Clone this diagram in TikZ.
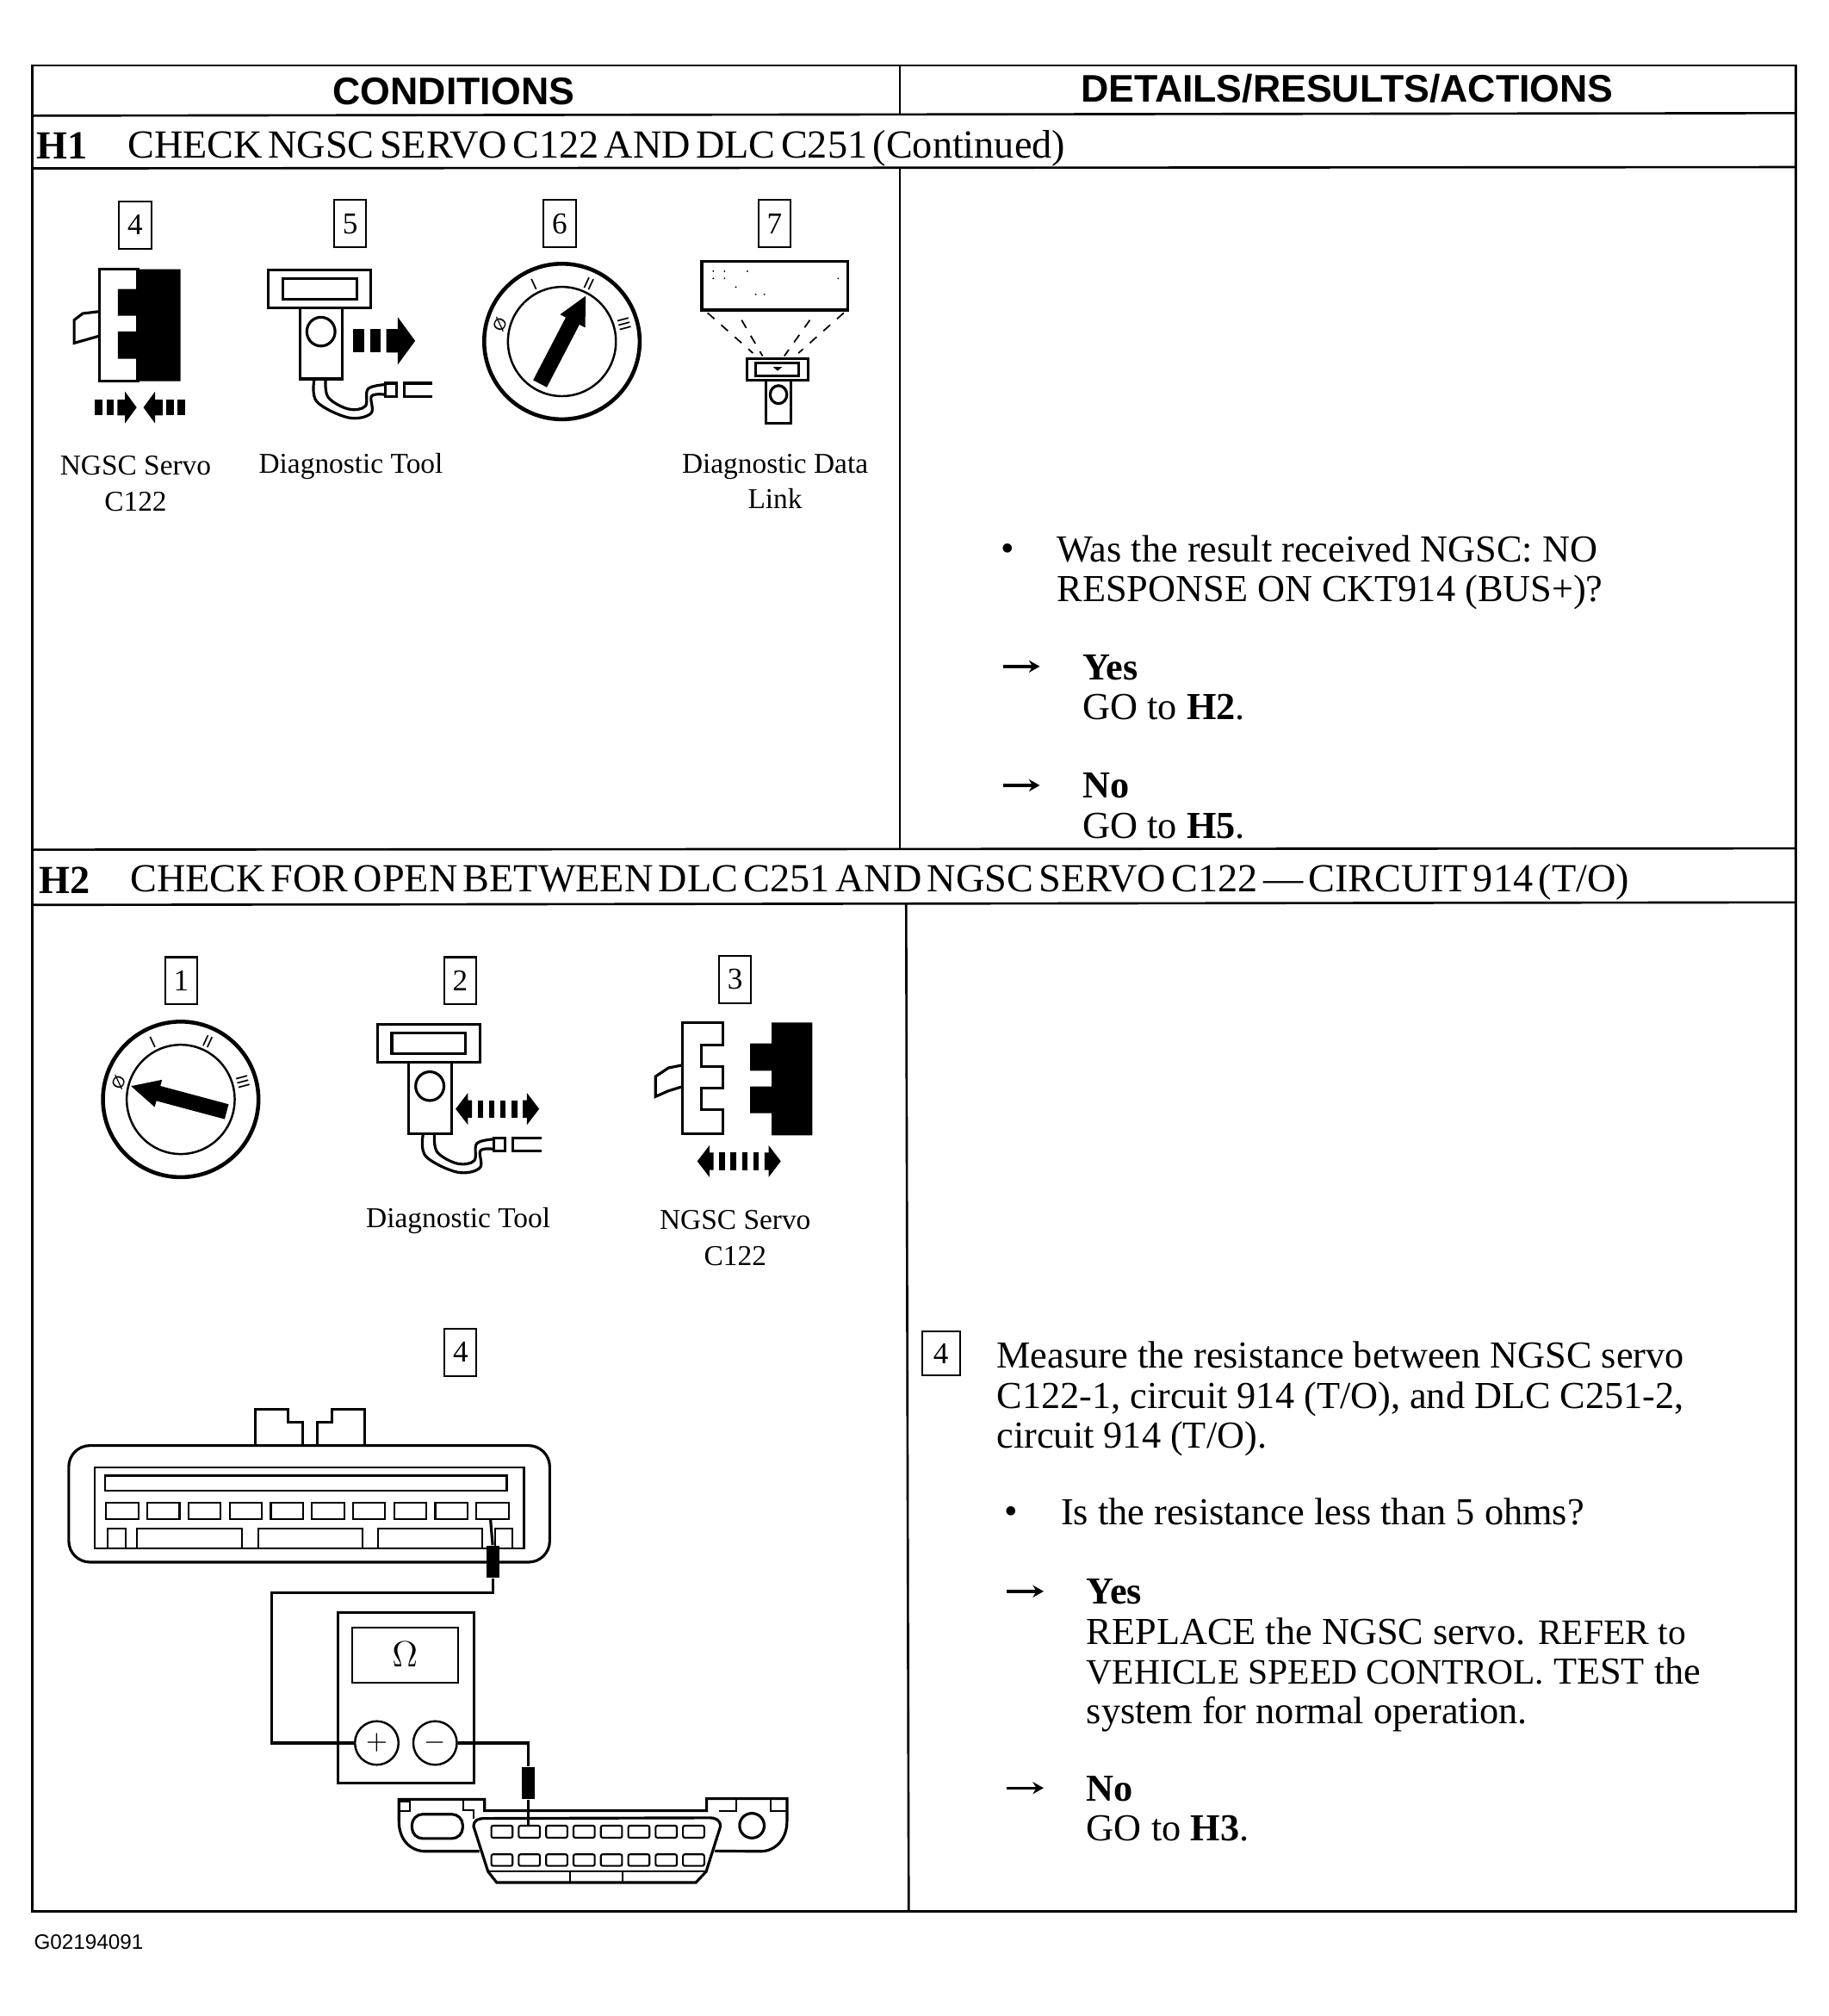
\documentclass[tikz,border=0pt]{standalone}
\usepackage{fontspec}
\setmainfont{Liberation Serif}
\setsansfont{Liberation Sans}
\newfontfamily\titlefont[WordSpace=0.55]{Liberation Serif}
\usetikzlibrary{arrows.meta,positioning,calc}
\newcommand{\smalltxt}[1]{{\fontsize{11.8}{13.2}\selectfont #1}}
\tikzset{
  rule/.style={line width=0.75pt},
  icon/.style={line width=0.9pt},
  fine/.style={line width=0.6pt},
  headtext/.style={inner sep=0pt,font=\sffamily\bfseries\fontsize{12.7}{14}\selectfont},
  titletext/.style={anchor=north west,inner sep=0pt,font=\titlefont\fontsize{13.15}{14}\selectfont},
  bodytext/.style={anchor=north west,inner sep=0pt,align=left,font=\fontsize{12.6}{13.2}\selectfont},
  captext/.style={inner sep=0pt,align=center,font=\fontsize{9.5}{11.9}\selectfont},
  tagbox/.style={draw,line width=0.6pt,inner sep=0pt,minimum width=10.6pt,minimum height=15.6pt,font=\fontsize{10}{12}\selectfont},
  dialmark/.style={inner sep=0pt,font=\sffamily\fontsize{5.5}{6}\selectfont},
  leadarrow/.style={-{Stealth[length=3.6pt,width=4pt,inset=1.2pt]},line width=0.95pt},
  jack/.style={circle,draw,line width=0.7pt,inner sep=0pt,minimum size=14.4pt,font=\fontsize{9}{9}\selectfont},
  probe/.style={fill=black,inner sep=0pt,minimum width=4.2pt,minimum height=10.6pt},
  pics/keydial/.style={code={
    \draw[line width=1.3pt] (0,0) circle [x radius=60.5,y radius=60.5];
    \draw[line width=0.7pt] (0,0) circle [x radius=42,y radius=42.5];
    \node[dialmark,rotate=65] (off) at (-48.3,-13) {Ø};
    \node[dialmark,rotate=25] (one) at (-21.8,-44.7) {I};
    \node[dialmark,rotate=-25] (two) at (21,-44.7) {II};
    \node[dialmark,rotate=-75] (three) at (48.4,-13.4) {III};
    \begin{scope}[rotate=#1]
      \fill (-37,-6)--(18,-6)--(18,-11)--(40,0)--(18,11)--(18,6)--(-37,6)--cycle;
    \end{scope}
  }},
  pics/toolunit/.style={code={
    \draw[icon] (0,0) rectangle (79.8,29.4);
    \draw[icon] (11.3,6.6) rectangle (68.8,22.7);
    \draw[icon] (24.6,29.4)--(24.6,84.8)--(57.7,84.8)--(57.7,29.4);
    \draw[icon] (40.9,48) circle [x radius=11,y radius=11.2];
    \draw[icon] plot[smooth,tension=.6] coordinates {(35.6,85.9)(37.8,102.6)(62.2,114.9)(79.8,111.6)(80.3,98.2)(90.9,97)};
    \draw[icon] plot[smooth,tension=.6] coordinates {(44.5,85.9)(46.7,99.3)(62.2,108.2)(75.4,106)(77.5,92.6)(90.9,89.2)};
    \draw[icon] (90.9,88.1) rectangle (99.7,98.6);
    \draw[icon] (127.6,88.1)--(105.5,88.1)--(105.5,98.6)--(127.6,98.6);
  }},
  pics/shutarrow/.style={code={
    \fill (0,0)--(-9,-12.3)--(-9,-6.1)--(-15,-6.1)--(-15,6.1)--(-9,6.1)--(-9,12.3)--cycle;
    \fill (-23.4,-6.1) rectangle (-17.7,6.1);
    \fill (-32.3,-6.1) rectangle (-26.6,6.1);
  }},
  pics/pullarrow/.style={code={
    \fill (-32.5,0)--(-23,-12.4)--(-23,-6.8)--(-19.8,-6.8)--(-19.8,6.8)--(-23,6.8)--(-23,12.4)--cycle;
    \fill (32.5,0)--(23,-12.4)--(23,-6.8)--(19.8,-6.8)--(19.8,6.8)--(23,6.8)--(23,12.4)--cycle;
    \foreach \b in {-15.4,-6.6,2.2,11} \fill (\b,-6.8) rectangle (\b+4.4,6.8);
  }}
}
\begin{document}
\begin{tikzpicture}[x=0.014926cm,y=-0.014926cm,>=latex]
  \useasboundingbox (0,0) rectangle (1423,1568.4);
  \draw[rule] (25,51) rectangle (1397,1487);
  \draw[rule] (25,90)--(1397,88);
  \draw[rule] (25,131)--(1397,130);
  \draw[rule] (25,661)--(1397,660);
  \draw[rule] (25,704)--(1397,702);
  \draw[rule] (700,51)--(700,89);
  \draw[rule] (700,131)--(700,660);
  \draw[rule] (705,703)--(707,1487);
  \node[headtext] (headCond) at (353,71) {CONDITIONS};
  \node[headtext] (headAct) at (1048,69) {DETAILS/RESULTS/ACTIONS};
  \node[titletext] (idOne) at (28,103) {\textbf{H1}};
  \node[titletext] (titleOne) at (99,101) {CHECK NGSC SERVO C122 AND DLC C251 (Continued)};
  \node[titletext] (idTwo) at (30,674) {\textbf{H2}};
  \node[titletext] (titleTwo) at (101,672) {CHECK FOR OPEN BETWEEN DLC C251 AND NGSC SERVO C122 — CIRCUIT 914 (T/O)};

  \node[tagbox] (tagFour) at (105.2,175) {4};
  \node[tagbox] (tagFive) at (272.5,174) {5};
  \node[tagbox] (tagSix) at (435.5,174) {6};
  \node[tagbox] (tagSeven) at (602.5,174) {7};

  \draw[icon] (77.6,209.5) rectangle (107.2,296.6);
  \fill (107.2,209.5)--(140.4,209.5)--(140.4,296.6)--(107.2,296.6)--(107.2,279.1)--(91.7,279.1)--(91.7,257.9)--(107.2,257.9)--(107.2,245.7)--(91.7,245.7)--(91.7,224.9)--(107.2,224.9)--cycle;
  \draw[icon] (77.6,242.3)--(64.3,243.9)--(57.7,249)--(57.7,266.9)--(77.6,261.3);
  \pic at (106.3,317) {shutarrow};
  \pic[xscale=-1] at (111.6,317) {shutarrow};
  \node[captext] (capServoA) at (105.5,376) {NGSC Servo\\C122};

  \pic at (208.8,210) {toolunit};
  \pic[scale=1.5] at (323,265.2) {shutarrow};
  \node[captext] (capToolA) at (273,363) {Diagnostic Tool};

  \pic (dialA) at (437.2,265.7) {keydial=62.5};

  \begin{scope}[shift={(-2.5,0)}]
    \draw[icon] (548.5,203.2) rectangle (662.2,241.2);
    \foreach \p in {(557.4,211),(566.2,211),(584,211),(557.4,216.6),(566.2,216.6),(575,223.3),(590.5,229),(597.2,229),(654.6,216.6)}
      \fill \p circle (0.7);
    \draw[dashed,line width=0.5pt] (553,243.4)--(588.3,274.7);
    \draw[dashed,line width=0.5pt] (579.5,249)--(595.8,277);
    \draw[dashed,line width=0.5pt] (632.6,249)--(612.7,277);
    \draw[dashed,line width=0.5pt] (659,243.4)--(623.7,274.7);
    \draw[icon] (583.9,279.2) rectangle (631.2,295.9);
    \draw[icon] (590.5,282.5) rectangle (623.7,292.6);
    \fill (604,285.5)--(611,285.5)--(607.5,288.5)--cycle;
    \draw[icon] (598.5,295.9)--(598.5,329.4)--(618,329.4)--(618,295.9);
    \draw[icon] (608.2,307) circle [x radius=6.5,y radius=7];
  \end{scope}
  \node[captext] (capLink) at (603,374.5) {Diagnostic Data\\Link};

  \node[bodytext,anchor=center] (dotOne) at (784,430) {•};
  \node[bodytext] (askOne) at (822,416) {Was the result received NGSC: NO\\RESPONSE ON CKT914 (BUS+)?};
  \coordinate (tailA) at (780.5,518.5);
  \coordinate (tipA) at (809,518.5);
  \draw[leadarrow] (tailA)--(tipA);
  \node[bodytext] (yesOne) at (842,509) {\textbf{Yes}\\GO to \textbf{H2}.};
  \coordinate (tailB) at (780.5,611);
  \coordinate (tipB) at (809,611);
  \draw[leadarrow] (tailB)--(tipB);
  \node[bodytext] (noOne) at (842,601) {\textbf{No}\\GO to \textbf{H5}.};

  \node[tagbox] (tagOneB) at (141,763) {1};
  \node[tagbox] (tagTwoB) at (358,763) {2};
  \node[tagbox] (tagThreeB) at (572,762) {3};
  \pic (dialB) at (140.6,855.3) {keydial=165};
  \pic at (293.5,797) {toolunit};
  \pic at (387,862.7) {pullarrow};
  \node[captext] (capToolB) at (356.5,950) {Diagnostic Tool};

  \draw[icon] (531,795.5)--(562.4,795.5)--(562.4,812.9)--(545.8,812.9)--(545.8,829.7)--(562.4,829.7)--(562.4,846.4)--(545.8,846.4)--(545.8,863.2)--(562.4,863.2)--(562.4,882.1)--(531,882.1)--cycle;
  \draw[icon] (531,828.6)--(520,830.8)--(510,837.5)--(510,853.1)--(520,848.7)--(531,845.3);
  \fill (600.4,795.5)--(632,795.5)--(632,883.3)--(600.4,883.3)--(600.4,866)--(583.7,866)--(583.7,845.3)--(600.4,845.3)--(600.4,833)--(583.7,833)--(583.7,811.8)--(600.4,811.8)--cycle;
  \pic at (575,903.4) {pullarrow};
  \node[captext] (capServoB) at (572,963) {NGSC Servo\\C122};

  \node[tagbox] (tagFourB) at (358.3,1052) {4};
  \draw[icon,rounded corners=7pt] (53.5,1124.6) rectangle (427.7,1215.3);
  \draw[icon] (198.9,1124.6)--(198.9,1096.3)--(223.9,1096.3)--(223.9,1106.5)--(235.4,1106.5)--(235.4,1124.6);
  \draw[icon] (247,1124.6)--(247,1106.5)--(258.5,1106.5)--(258.5,1096.3)--(283.5,1096.3)--(283.5,1124.6);
  \draw[fine] (73.9,1141.8) rectangle (407.7,1204.5);
  \draw[fine] (81.6,1148) rectangle (394.3,1160);
  \foreach \x in {82.7,114.7,146.7,178.7,210.7,242.7,274.7,306.7,338.7,370.7}
    \draw[fine] (\x,1169.2) rectangle (\x+25,1181.8);
  \draw[fine] (83.5,1189.4) rectangle (98.1,1204.5);
  \draw[fine] (106.6,1189.4) rectangle (188.5,1204.5);
  \draw[fine] (200.8,1189.4) rectangle (282.3,1204.5);
  \draw[fine] (294.3,1189.4) rectangle (375,1204.5);
  \draw[fine] (385.4,1189.4) rectangle (398.9,1204.5);

  \draw[icon] (263,1254.6) rectangle (368.9,1387.4);
  \draw[fine] (273.9,1266) rectangle (356.6,1309);
  \node[inner sep=0pt,font=\fontsize{13}{13}\selectfont] (ohmSign) at (315,1287) {$\Omega$};
  \node[jack] (jackPlus) at (293.1,1356) {$+$};
  \node[jack] (jackMinus) at (338.5,1356) {$-$};

  \node[probe] (probeServo) at (383.3,1215) {};
  \node[probe] (probeDlc) at (411,1387) {};
  \coordinate (servoPin) at (381.6,1181.8);
  \coordinate (dlcPin) at (411,1421);
  \coordinate (wireBend) at (211.6,1239.2);
  \draw[icon] (servoPin)--(probeServo.north);
  \draw[icon] (probeDlc.south)--(dlcPin);
  \draw[icon] (probeServo.south)|-(wireBend)|-(jackPlus.west);
  \draw[icon] (jackMinus.east)-|(probeDlc.north);

  \draw[icon] (373,1440.3)--(331,1440.3) .. controls (318,1440) and (310.4,1430) .. (310.4,1417)--(310.4,1399.8)--(377,1399.8)--(377,1408.7)--(549.8,1408.7)--(549.8,1399.3)--(612.3,1399.3)--(612.3,1417) .. controls (612.3,1430) and (604,1440) .. (592,1440.3)--(556,1440);
  \draw[fine] (310.4,1401.3)--(318.9,1401.3)--(318.9,1409)--(310.4,1409);
  \draw[fine] (360.7,1399.8)--(360.7,1408)--(368.5,1408)--(368.5,1414.7);
  \draw[fine] (559.4,1409)--(572.8,1409)--(572.8,1399.3);
  \draw[fine] (599.6,1399.3)--(599.6,1409)--(612.3,1409);
  \draw[icon,rounded corners=3.6pt] (320.5,1411.4) rectangle (360,1430.3);
  \draw[icon] (585,1420.3) circle [x radius=9.6,y radius=9.6];
  \draw[icon] (368.5,1421) .. controls (368.5,1416) and (372,1414.7) .. (377,1414.7)--(552,1414.2) .. controls (557,1414.2) and (560.5,1416) .. (560.5,1421)--(549.4,1456)--(541.5,1464.5)--(386.4,1464.5)--(379.7,1456)--cycle;
  \foreach \x in {382.3,403.6,424.9,446.2,467.5,488.8,510.1,531.4}{
    \draw[fine,rounded corners=0.6pt] (\x,1420.3) rectangle (\x+16.5,1429.7);
    \draw[fine,rounded corners=0.6pt] (\x,1442.6) rectangle (\x+16.5,1451.6);
  }
  \draw[fine] (379.7,1456)--(549.4,1456);
  \draw[fine] (443.3,1456)--(443.3,1464.5);
  \draw[fine] (484.6,1456)--(484.6,1464.5);

  \node[tagbox,minimum width=12.5pt,minimum height=14.4pt] (tagFourC) at (732,1053) {4};
  \node[bodytext] (stepFour) at (775,1043.5) {Measure the resistance between NGSC servo\\C122-1, circuit 914 (T/O), and DLC C251-2,\\circuit 914 (T/O).};
  \node[bodytext,anchor=center] (dotTwo) at (787,1179) {•};
  \node[bodytext] (askTwo) at (825,1165) {Is the resistance less than 5 ohms?};
  \coordinate (tailC) at (783.5,1238);
  \coordinate (tipC) at (812,1238);
  \draw[leadarrow] (tailC)--(tipC);
  \node[bodytext] (yesTwo) at (845,1228) {\textbf{Yes}\\REPLACE the NGSC servo. \smalltxt{REFER to}\\\smalltxt{VEHICLE SPEED CONTROL.} TEST the\\system for normal operation.};
  \coordinate (tailD) at (783.5,1391);
  \coordinate (tipD) at (812,1391);
  \draw[leadarrow] (tailD)--(tipD);
  \node[bodytext] (noTwo) at (845,1381) {\textbf{No}\\GO to \textbf{H3}.};

  \node[inner sep=0pt,anchor=west,font=\sffamily\fontsize{6.9}{8}\selectfont] (figCode) at (26,1511) {G02194091};
\end{tikzpicture}
\end{document}
